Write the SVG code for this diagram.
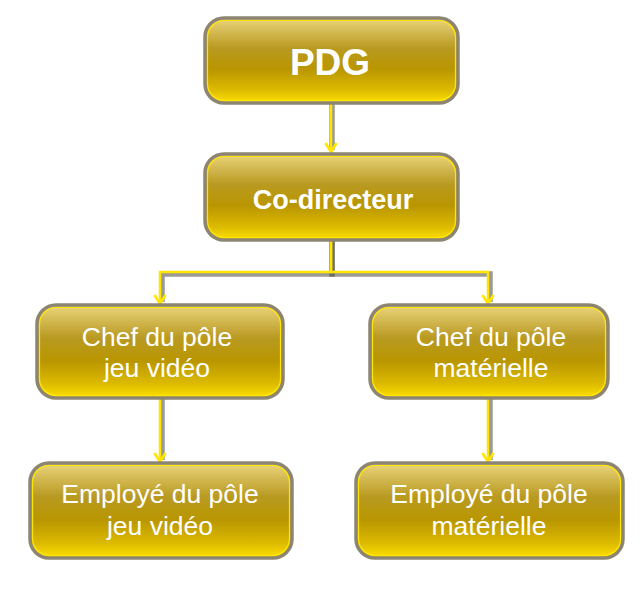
<svg xmlns="http://www.w3.org/2000/svg" width="644" height="601" viewBox="0 0 644 601">
  <defs>
    <linearGradient id="gold" x1="0" y1="0" x2="0" y2="1">
      <stop offset="0" stop-color="#EBD57E"/>
      <stop offset="0.35" stop-color="#B99A22"/>
      <stop offset="0.6" stop-color="#B99600"/>
      <stop offset="0.85" stop-color="#DDBB00"/>
      <stop offset="1" stop-color="#FFE100"/>
    </linearGradient>
    <marker id="arr" markerWidth="16" markerHeight="16" viewBox="0 0 16 16" refX="13" refY="8" orient="auto" markerUnits="userSpaceOnUse">
      <path d="M4 2.5 L13 8 L4 13.5" fill="none" stroke="#FFE600" stroke-width="2.6" stroke-linejoin="miter"/>
    </marker>
  </defs>
  <style>
    .box { fill: url(#gold); stroke: #8C8572; stroke-width: 3.5; }
    .inner { fill: none; stroke: #FFE600; stroke-width: 1.2; }
    .t { fill: #FFFFFF; font-family: "Liberation Sans", Arial, sans-serif; text-anchor: middle; font-size: 26.5px; }
    .b { font-weight: bold; }
    .big { font-size: 37px; }
    .sh { fill: none; stroke: #4a473f; stroke-width: 5.5; opacity: 0.55; }
    .ln { fill: none; stroke: #FFE600; stroke-width: 2.5; }
  </style>
  <rect width="644" height="601" fill="#FFFFFF"/>

  <g id="connectors">
    <path class="sh" d="M332 104 V150"/>
    <path class="sh" d="M332 241 V274 H162 V302"/>
    <path class="sh" d="M332 241 V274 H490 V302"/>
    <path class="sh" d="M162 399 V460"/>
    <path class="sh" d="M490 399 V460"/>
    <path class="ln" d="M331 103 V152" marker-end="url(#arr)"/>
    <path class="ln" d="M331 240 V272 H160 V304" marker-end="url(#arr)"/>
    <path class="ln" d="M331 240 V272 H488 V304" marker-end="url(#arr)"/>
    <path class="ln" d="M160 398 V462" marker-end="url(#arr)"/>
    <path class="ln" d="M488 398 V462" marker-end="url(#arr)"/>
  </g>

  <g id="node-pdg">
    <rect class="box" x="205" y="18" width="253" height="85" rx="19"/>
    <rect class="inner" x="207.5" y="20.5" width="248" height="80" rx="17"/>
    <text class="t b big" x="330" y="75">PDG</text>
  </g>

  <g id="node-codirecteur">
    <rect class="box" x="205" y="154" width="253" height="86" rx="19"/>
    <rect class="inner" x="207.5" y="156.5" width="248" height="81" rx="17"/>
    <text class="t b" x="333" y="209" style="font-size:27px">Co-directeur</text>
  </g>

  <g id="node-chef-jeu">
    <rect class="box" x="37" y="305" width="246" height="93" rx="19"/>
    <rect class="inner" x="39.5" y="307.5" width="241" height="88" rx="17"/>
    <text class="t" x="157" y="346">Chef du pôle</text>
    <text class="t" x="157" y="377">jeu vidéo</text>
  </g>

  <g id="node-chef-materielle">
    <rect class="box" x="370" y="305" width="238" height="93" rx="19"/>
    <rect class="inner" x="372.5" y="307.5" width="233" height="88" rx="17"/>
    <text class="t" x="491" y="346">Chef du pôle</text>
    <text class="t" x="491" y="377">matérielle</text>
  </g>

  <g id="node-employe-jeu">
    <rect class="box" x="30" y="463" width="262" height="95" rx="19"/>
    <rect class="inner" x="32.5" y="465.5" width="257" height="90" rx="17"/>
    <text class="t" x="160" y="503">Employé du pôle</text>
    <text class="t" x="160" y="535">jeu vidéo</text>
  </g>

  <g id="node-employe-materielle">
    <rect class="box" x="356" y="463" width="267" height="95" rx="19"/>
    <rect class="inner" x="358.5" y="465.5" width="262" height="90" rx="17"/>
    <text class="t" x="489" y="503">Employé du pôle</text>
    <text class="t" x="489" y="535">matérielle</text>
  </g>
</svg>
